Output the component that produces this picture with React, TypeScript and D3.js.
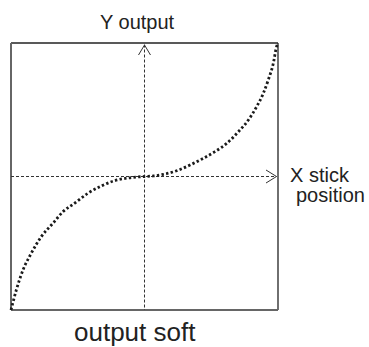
import React from "react";
import * as d3 from "d3";

const curveX = [-1, -0.96, -0.91, -0.848, -0.773, -0.685, -0.61, -0.523, -0.423, -0.324, -0.223, -0.124, 0,
  0.066, 0.141, 0.241, 0.341, 0.44, 0.528, 0.616, 0.703, 0.778, 0.84, 0.89, 0.927, 0.965, 0.99, 1];
const curveY = [-1, -0.85, -0.70, -0.575, -0.45, -0.35, -0.263, -0.20, -0.125, -0.071, -0.031, -0.011, 0,
  0.004, 0.016, 0.043, 0.086, 0.136, 0.186, 0.248, 0.335, 0.423, 0.523, 0.623, 0.723, 0.848, 0.975, 1];
const xDomain = [-1, 1];
const yDomain = [-1, 1];
const yLabel = "Y output";
const xLabel1 = "X stick";
const xLabel2 = "position";
const title = "output soft";

export default function App() {
  const W = 369, H = 347;
  const left = 11, right = 278, top = 43, bottom = 310;
  const x = d3.scaleLinear().domain(xDomain).range([left, right]);
  const y = d3.scaleLinear().domain(yDomain).range([bottom, top]);
  const pts: [number, number][] = curveX.map((v, i) => [v, curveY[i]]);
  const line = d3.line<[number, number]>().x(d => x(d[0])).y(d => y(d[1])).curve(d3.curveMonotoneX);
  const cx = x(0), cy = y(0);
  const font = "'Liberation Sans', Arial, sans-serif";
  return (
    <svg width={W} height={H} style={{ position: "absolute", left: 0, top: 0 }}>
      <rect width={W} height={H} fill="#fff" />
      {/* box */}
      <line x1={left} y1={top} x2={right} y2={top} stroke="#222" strokeWidth={1.3} />
      <line x1={right} y1={top} x2={right} y2={bottom} stroke="#222" strokeWidth={1.3} />
      <line x1={left} y1={top} x2={left} y2={bottom} stroke="#666" strokeWidth={2} />
      <line x1={left} y1={bottom} x2={right} y2={bottom} stroke="#666" strokeWidth={2} />
      {/* dashed axes */}
      <line x1={left} y1={cy} x2={right - 1.5} y2={cy} stroke="#333" strokeWidth={1} strokeDasharray="3 2" />
      <line x1={cx} y1={top + 1.5} x2={cx} y2={bottom} stroke="#333" strokeWidth={1} strokeDasharray="3 2" />
      {/* arrows */}
      <polyline points={`${cx - 6},${top + 12} ${cx},${top + 2} ${cx + 6},${top + 12}`} fill="none" stroke="#333" strokeWidth={1} />
      <polyline points={`${right - 12},${cy - 6.5} ${right - 1.5},${cy} ${right - 12},${cy + 6.5}`} fill="none" stroke="#333" strokeWidth={1} />
      {/* curve */}
      <path d={line(pts) || ""} fill="none" stroke="#1a1a1a" strokeWidth={2.8} strokeDasharray="2.4 2.3" />
      {/* labels */}
      <text x={100} y={29} fontFamily={font} fontSize={20} fill="#222">{yLabel}</text>
      <text x={290} y={182} fontFamily={font} fontSize={20} fill="#222">{xLabel1}</text>
      <text x={296} y={202} fontFamily={font} fontSize={20} fill="#222">{xLabel2}</text>
      <text x={74} y={341} fontFamily={font} fontSize={26} fill="#222">{title}</text>
    </svg>
  );
}
